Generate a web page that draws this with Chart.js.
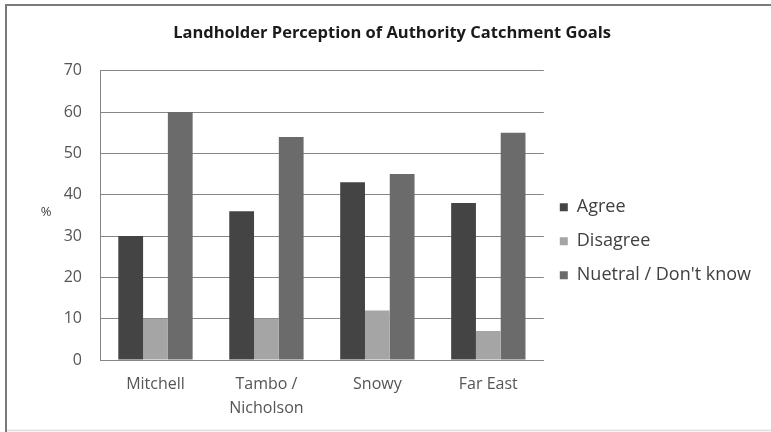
<!DOCTYPE html>
<html>
<head>
<meta charset="utf-8">
<script src="https://cdn.jsdelivr.net/npm/chart.js@4/dist/chart.umd.min.js"></script>
<style>
  html, body { margin: 0; padding: 0; background: #ffffff; }
  #wrap { width: 771px; height: 432px; position: relative; }
</style>
</head>
<body>
<div id="wrap"><canvas id="c" width="771" height="432"></canvas></div>
<script>
// Catchment regions surveyed
const regions = ['Mitchell', ['Tambo /', 'Nicholson'], 'Snowy', 'Far East'];
// Percentage of landholders giving each response
const agree = [30, 36, 43, 38];
const disagree = [10, 10, 12, 7];
const neutral = [60, 54, 45, 55];
const seriesNames = ['Agree', 'Disagree', "Nuetral / Don't know"];
const yTicks = [0, 10, 20, 30, 40, 50, 60, 70];

const FONT = "'Open Sans', 'Liberation Sans', sans-serif";

// Frame lines around the chart plus an upright "%" unit label beside the value axis
const framePlugin = {
  id: 'frame',
  beforeDraw(chart) {
    const ctx = chart.ctx;
    ctx.save();
    ctx.fillStyle = '#ffffff';
    ctx.fillRect(0, 0, chart.width, chart.height);
    ctx.lineWidth = 2;
    ctx.strokeStyle = '#7a7a7a';
    ctx.beginPath();
    ctx.moveTo(5, 5);
    ctx.lineTo(chart.width, 5);
    ctx.moveTo(6, 4);
    ctx.lineTo(6, chart.height);
    ctx.stroke();
    ctx.strokeStyle = '#dddddd';
    ctx.lineWidth = 1.5;
    ctx.beginPath();
    ctx.moveTo(7, 430.5);
    ctx.lineTo(chart.width, 430.5);
    ctx.stroke();
    ctx.restore();
  },
  afterDraw(chart) {
    const ctx = chart.ctx;
    ctx.save();
    ctx.fillStyle = '#404040';
    ctx.font = '13px ' + FONT;
    ctx.textAlign = 'center';
    ctx.textBaseline = 'middle';
    ctx.fillText('%', 46, 212);
    ctx.restore();
  }
};

new Chart(document.getElementById('c'), {
  type: 'bar',
  data: {
    labels: regions,
    datasets: [
      { label: seriesNames[0], data: agree, backgroundColor: '#444444' },
      { label: seriesNames[1], data: disagree, backgroundColor: '#a5a5a5' },
      { label: seriesNames[2], data: neutral, backgroundColor: '#6b6b6b' }
    ]
  },
  options: {
    responsive: false,
    animation: false,
    devicePixelRatio: 1,
    layout: { padding: { left: 23, right: 10, top: 6, bottom: 0 } },
    datasets: { bar: { categoryPercentage: 0.67, barPercentage: 1.0 } },
    plugins: {
      title: {
        display: true,
        text: 'Landholder Perception of Authority Catchment Goals',
        color: '#1a1a1a',
        font: { family: FONT, size: 16.5, weight: 'bold' },
        padding: { top: 17, bottom: 28 }
      },
      legend: {
        position: 'right',
        align: 'center',
        maxWidth: 260,
        title: { display: true, text: '', font: { size: 12 }, padding: { top: 0, bottom: 30 } },
        labels: {
          color: '#404040',
          font: { family: FONT, size: 18 },
          boxWidth: 8,
          boxHeight: 8,
          padding: 16
        }
      },
      tooltip: { enabled: false }
    },
    scales: {
      x: {
        grid: { display: false, drawTicks: false },
        border: { color: '#868686' },
        ticks: {
          color: '#555555',
          font: { family: FONT, size: 16, lineHeight: 1.5 },
          padding: 12,
          maxRotation: 0
        }
      },
      y: {
        min: 0,
        max: 70,
        afterFit(scale) { scale.width = 77; },
        afterBuildTicks(scale) { scale.ticks = yTicks.map(v => ({ value: v })); },
        grid: { color: '#868686', drawTicks: false },
        border: { color: '#868686' },
        ticks: {
          color: '#555555',
          font: { family: FONT, size: 16 },
          padding: 18
        }
      }
    }
  },
  plugins: [framePlugin]
});
</script>
</body>
</html>
